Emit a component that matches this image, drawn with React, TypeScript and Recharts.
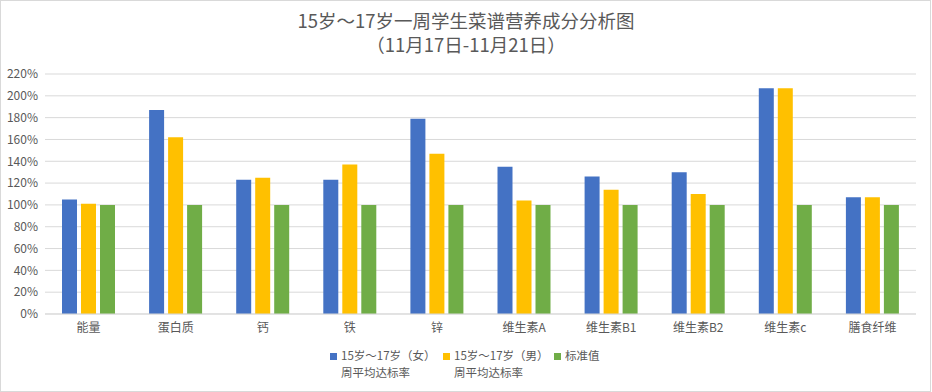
import React from 'react';
import { BarChart, Bar, XAxis, YAxis, CartesianGrid } from 'recharts';

const categories = ['能量', '蛋白质', '钙', '铁', '锌', '维生素A', '维生素B1', '维生素B2', '维生素c', '膳食纤维'];
const femaleRate = [105, 187, 123, 123, 179, 135, 126, 130, 207, 107];
const maleRate = [101, 162, 125, 137, 147, 104, 114, 110, 207, 107];
const standard = [100, 100, 100, 100, 100, 100, 100, 100, 100, 100];
const yTicks = [0, 20, 40, 60, 80, 100, 120, 140, 160, 180, 200, 220];
const seriesNames = [
  ['15岁～17岁（女）', '周平均达标率'],
  ['15岁～17岁（男）', '周平均达标率'],
  ['标准值'],
];
const seriesColors = ['#4472C4', '#FFC000', '#70AD47'];
const titleLine1 = '15岁～17岁一周学生菜谱营养成分分析图';
const titleLine2 = '（11月17日-11月21日）';

const data = categories.map((c, i) => ({
  name: c,
  female: femaleRate[i],
  male: maleRate[i],
  standard: standard[i],
}));

const FONT = '"Noto Sans CJK SC", "Noto Sans", sans-serif';
const TEXT = '#595959';

export default function App() {
  const legendX = [330, 443, 554];
  return (
    <div style={{ position: 'absolute', left: 0, top: 0, width: 932, height: 392, background: '#fff', fontFamily: FONT }}>
      <div style={{ position: 'absolute', left: 0, top: 0, width: 929, height: 390, border: '1px solid #d9d9d9' }} />
      <div style={{ position: 'absolute', left: 0, top: 8, width: 932, textAlign: 'center', color: TEXT, fontSize: 18.5, lineHeight: '24px' }}>
        <div>{titleLine1}</div>
        <div>{titleLine2}</div>
      </div>
      <div style={{ position: 'absolute', left: 0, top: 0 }}>
        <BarChart width={932} height={392} data={data} margin={{ top: 74, right: 16, bottom: 48, left: 0 }} barCategoryGap={17} barGap={4}>
          <CartesianGrid vertical={false} stroke="#d9d9d9" />
          <XAxis
            dataKey="name"
            height={30}
            tickLine={false}
            axisLine={{ stroke: '#d9d9d9' }}
            tickSize={0}
            tickMargin={9}
            tick={{ fill: TEXT, fontSize: 12, fontFamily: FONT }}
            interval={0}
          />
          <YAxis
            width={45}
            domain={[0, 220]}
            ticks={yTicks}
            interval={0}
            tickFormatter={(v: number) => `${v}%`}
            axisLine={false}
            tickLine={false}
            tickSize={0}
            tickMargin={7}
            tick={{ fill: TEXT, fontSize: 12, fontFamily: FONT }}
          />
          <Bar dataKey="female" fill={seriesColors[0]} isAnimationActive={false} />
          <Bar dataKey="male" fill={seriesColors[1]} isAnimationActive={false} />
          <Bar dataKey="standard" fill={seriesColors[2]} isAnimationActive={false} />
        </BarChart>
      </div>
      {seriesNames.map((lines, i) => (
        <div key={i} style={{ position: 'absolute', left: legendX[i], top: 347, color: TEXT, fontSize: 11.5, lineHeight: '17px' }}>
          <span style={{ position: 'absolute', left: 0, top: 6, width: 7, height: 7, background: seriesColors[i] }} />
          <div style={{ marginLeft: 11, whiteSpace: 'nowrap' }}>
            {lines.map((l, j) => (
              <div key={j}>{l}</div>
            ))}
          </div>
        </div>
      ))}
    </div>
  );
}
